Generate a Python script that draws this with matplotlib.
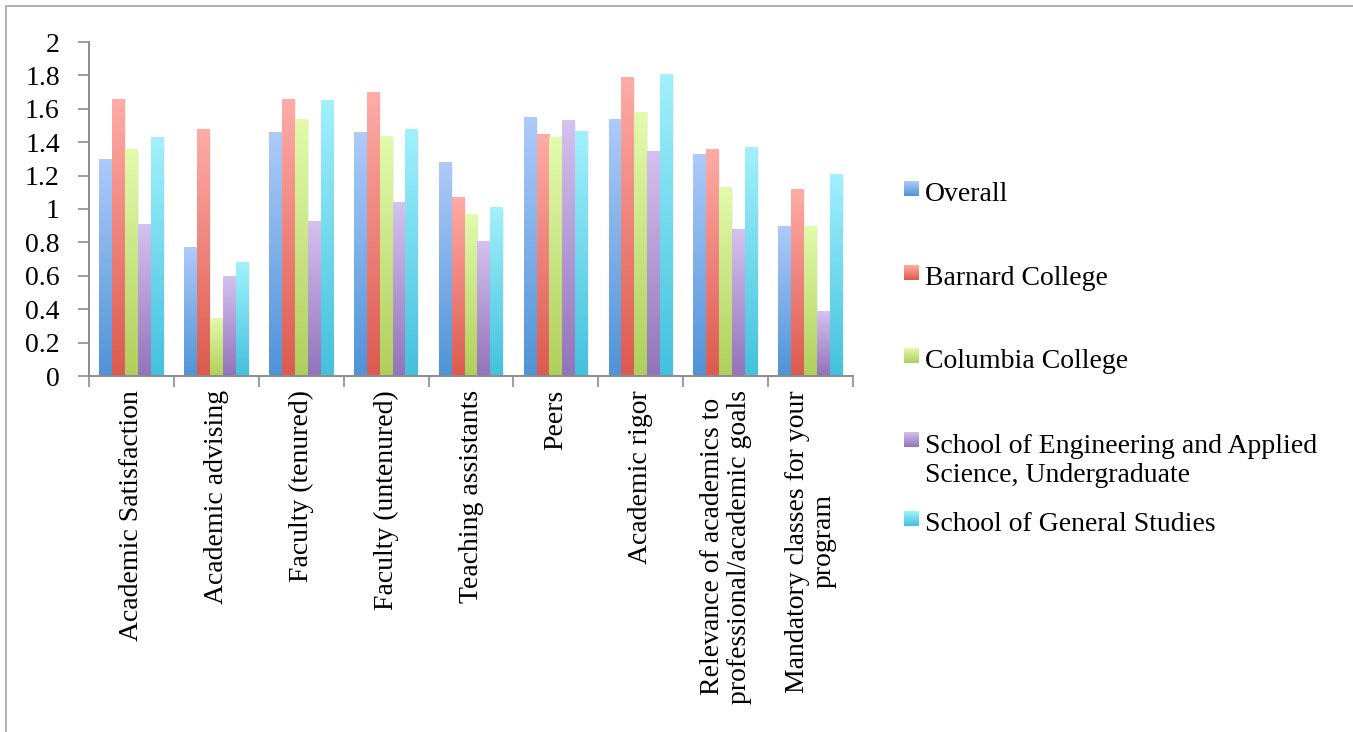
from matplotlib import pyplot as plt
from matplotlib.colors import LinearSegmentedColormap
from matplotlib.patches import Rectangle
import numpy as np

categories = ['Academic Satisfaction', 'Academic advising', 'Faculty (tenured)',
              'Faculty (untenured)', 'Teaching assistants', 'Peers', 'Academic rigor',
              'Relevance of academics to\nprofessional/academic goals',
              'Mandatory classes for your\nprogram']

series_names = ['Overall', 'Barnard College', 'Columbia College',
                'School of Engineering and Applied\nScience, Undergraduate',
                'School of General Studies']

overall = [1.30, 0.77, 1.46, 1.46, 1.28, 1.55, 1.54, 1.33, 0.90]
barnard = [1.66, 1.48, 1.66, 1.70, 1.07, 1.45, 1.79, 1.36, 1.12]
columbia = [1.36, 0.35, 1.54, 1.44, 0.97, 1.43, 1.58, 1.13, 0.90]
seas = [0.91, 0.60, 0.93, 1.04, 0.81, 1.53, 1.35, 0.88, 0.39]
general_studies = [1.43, 0.68, 1.65, 1.48, 1.01, 1.47, 1.81, 1.37, 1.21]

series = [overall, barnard, columbia, seas, general_studies]

# (top colour, bottom colour) of each bar gradient
grad_colors = [('#aecbfa', '#4f93d7'),
               ('#ffaca7', '#dc5a4f'),
               ('#e3fbac', '#afcf5c'),
               ('#d5c2ef', '#9373ba'),
               ('#a2f1fd', '#43c1dd')]

FONT = 'Liberation Serif'
FS = 20
W, H = 1353, 732

fig = plt.figure(figsize=(W / 100, H / 100), dpi=100)
ax = fig.add_axes([89 / W, 1 - 376 / H, (853 - 89) / W, (376 - 42) / H])

# outer frame of the chart area
fig.patches.append(Rectangle((6 / W, -0.1), 1.2, 1.1 - 6 / H, transform=fig.transFigure,
                             fill=False, edgecolor='#a6a6a6', linewidth=1.2))

n = len(series)
x = np.arange(len(categories))
bw = 0.152
offsets = (np.arange(n) - (n - 1) / 2) * bw

grad = np.linspace(0, 1, 256).reshape(-1, 1)
cmaps = [LinearSegmentedColormap.from_list(f'g{i}', [c[1], c[0]]) for i, c in enumerate(grad_colors)]

for i, vals in enumerate(series):
    bars = ax.bar(x + offsets[i], vals, bw, color='none', edgecolor='none', zorder=2)
    for b in bars:
        x0, y0 = b.get_x(), b.get_y()
        bwid, bh = b.get_width(), b.get_height()
        # faint shadow to the right
        ax.add_patch(Rectangle((x0 + 0.012, y0), bwid, bh - 0.01, facecolor='#000000',
                               alpha=0.06, edgecolor='none', zorder=1))
        im = ax.imshow(grad, cmap=cmaps[i], aspect='auto', origin='lower',
                       extent=(x0, x0 + bwid, y0, y0 + bh), zorder=2)
        im.set_clip_path(b)

ax.set_xlim(-0.5, len(categories) - 0.5)
ax.set_ylim(0, 2)
ax.set_yticks(np.arange(0, 2.01, 0.2))
ax.set_yticklabels(['0', '0.2', '0.4', '0.6', '0.8', '1', '1.2', '1.4', '1.6', '1.8', '2'],
                   fontfamily=FONT, fontsize=FS)
ax.set_xticks(x)
ax.set_xticklabels(categories, rotation=90, fontfamily=FONT, fontsize=FS,
                   va='top', ha='center', multialignment='center', linespacing=1.1)
ax.set_xticks(np.arange(len(categories) + 1) - 0.5, minor=True)

ax.tick_params(axis='y', length=8, width=1.2, color='#8c8c8c', pad=13, direction='out')
ax.tick_params(axis='x', which='major', length=0, pad=10)
ax.tick_params(axis='x', which='minor', length=8, width=1.2, color='#8c8c8c', direction='out')

for s in ['top', 'right']:
    ax.spines[s].set_visible(False)
for s in ['left', 'bottom']:
    ax.spines[s].set_color('#8c8c8c')
    ax.spines[s].set_linewidth(1.4)

# legend drawn by hand so the wrapped entry keeps its marker on the first line
first_baselines = [201, 285, 368, 452, 531]
line_step = 30
for i, name in enumerate(series_names):
    yb = 1 - first_baselines[i] / H
    kax = fig.add_axes([904 / W, yb + 5 / H, 15 / W, 15 / H])
    kax.imshow(grad, cmap=cmaps[i], aspect='auto', origin='lower')
    kax.set_axis_off()
    # baseline alignment of matplotlib uses the last line of the text
    last = first_baselines[i] + line_step * name.count('\n')
    fig.text(925 / W, 1 - last / H, name, fontfamily=FONT, fontsize=FS, va='baseline',
             ha='left', linespacing=1.21)

fig.savefig('out.png', dpi=100)
